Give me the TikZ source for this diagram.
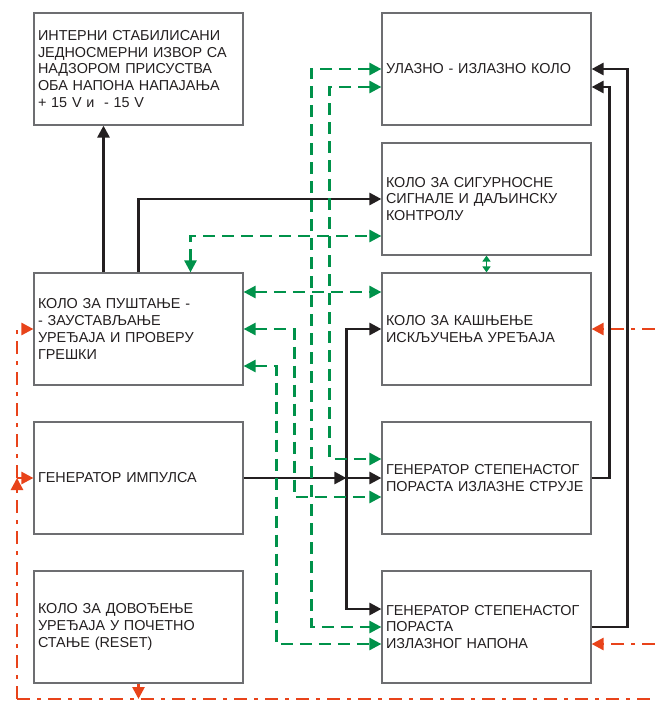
\documentclass[tikz,border=0pt]{standalone}
\usepackage{fontspec}
\setsansfont{Liberation Sans}
\usetikzlibrary{arrows.meta}

\definecolor{blkline}{HTML}{231F20}
\definecolor{grnline}{HTML}{00924A}
\definecolor{redline}{HTML}{E8431A}
\definecolor{boxgray}{HTML}{6D6E71}

\tikzset{
  blok/.style={draw=boxgray, line width=1.2pt, minimum width=209pt, minimum height=112pt,
    text width=201pt, inner sep=4pt, align=left, text=blkline,
    font=\sffamily\fontsize{14.4}{16.7}\selectfont},
  bline/.style={draw=blkline, line width=2.8pt, ->},
  gline/.style={draw=grnline, line width=2.6pt, dash pattern=on 12pt off 7pt},
  rline/.style={draw=redline, line width=2.6pt, dash pattern=on 13pt off 7pt on 4pt off 7pt},
}

\begin{document}
\begin{tikzpicture}[x=1pt, y=-1pt, font=\sffamily, >={Triangle[length=12pt,width=12pt]}]
        \useasboundingbox (0,0) rectangle (655,702);
        % left column
        \node[blok] (pwr) at (138.5,69) {ИНТЕРНИ СТАБИЛИСАНИ\\ЈЕДНОСМЕРНИ ИЗВОР СА\\НАДЗОРОМ ПРИСУСТВА\\ОБА НАПОНА НАПАЈАЊА\\+ 15 V и\ \ - 15 V};
        \node[blok] (start) at (138.5,329) {КОЛО ЗА ПУШТАЊЕ -\\- ЗАУСТАВЉАЊЕ\\УРЕЂАЈА И ПРОВЕРУ\\ГРЕШКИ};
        \node[blok] (pulse) at (138.5,478) {ГЕНЕРАТОР ИМПУЛСА};
        \node[blok] (reset) at (138.5,627) {КОЛО ЗА ДОВОЂЕЊЕ\\УРЕЂАЈА У ПОЧЕТНО\\СТАЊЕ (RESET)};
        % right column
        \node[blok] (io) at (486.5,69) {УЛАЗНО - ИЗЛАЗНО КОЛО};
        \node[blok] (safe) at (486.5,199) {КОЛО ЗА СИГУРНОСНЕ\\СИГНАЛЕ И ДАЉИНСКУ\\КОНТРОЛУ};
        \node[blok] (delay) at (486.5,329) {КОЛО ЗА КАШЊЕЊЕ\\ИСКЉУЧЕЊА УРЕЂАЈА};
        \node[blok] (curr) at (486.5,478) {ГЕНЕРАТОР СТЕПЕНАСТОГ\\ПОРАСТА ИЗЛАЗНЕ СТРУЈЕ};
        \node[blok] (volt) at (486.5,627) {ГЕНЕРАТОР СТЕПЕНАСТОГ\\ПОРАСТА\\ИЗЛАЗНОГ НАПОНА};

        % black connections
        \draw[bline] ([xshift=-35pt]start.north) -- ([xshift=-35pt]pwr.south);
        \draw[bline] (start.north) |- (safe.west);
        \coordinate (bus) at ([xshift=-35pt]curr.west);
        \draw[bline] (pulse.east) -- (bus);
        \draw[bline] (bus) -- (curr.west);
        \draw[bline] (bus) |- (delay.west);
        \draw[bline] (bus) |- ([yshift=18pt]volt.west);
        \draw[bline] (curr.east) -| ([xshift=18pt,yshift=-18pt]io.east) -- ([yshift=-18pt]io.east);
        \draw[bline] (volt.east) -| ([xshift=36pt]io.east) -- (io.east);

        % green connections
        \draw[gline,<->] ([xshift=52pt]start.north) |- ([yshift=-37pt]safe.west);
        \draw[gline,<->] ([yshift=37pt]start.east) -- ([yshift=37pt]delay.west);
        \draw[gline,<->] (start.east) -| ([xshift=-87pt,yshift=-19pt]curr.west) -- ([yshift=-19pt]curr.west);
        \draw[gline,<->] ([yshift=-37pt]start.east) -| ([xshift=-105pt,yshift=-17pt]volt.west) -- ([yshift=-17pt]volt.west);
        \draw[gline,<->] (io.west) -| ([xshift=-70pt]volt.west) -- (volt.west);
        \draw[gline,<->] ([yshift=-18pt]io.west) -| ([xshift=-52pt,yshift=19pt]curr.west) -- ([yshift=19pt]curr.west);
        \draw[gline,solid,line width=1.6pt,{Triangle[length=6pt,width=8pt]}-{Triangle[length=6pt,width=8pt]}] (safe.south) -- (delay.north);

        % red reset lines
        \coordinate (rbl) at (17,699);
        \coordinate (rbr) at (655,699);
        \coordinate (vin) at ([yshift=-17pt]volt.east);
        \draw[rline] (rbl) -- (rbr);
        \draw[rline,->] (reset.south) -- (reset.south |- rbl);
        \draw[rline,->] (rbl) -- (pulse.west -| rbl);
        \draw[rline,->] (pulse.west -| rbl) |- (start.west);
        \draw[rline,->] (pulse.west -| rbl) -- (pulse.west);
        \draw[rline,->] (delay.east -| rbr) -- (delay.east);
        \draw[rline,->] (vin -| rbr) -- (vin);
    \end{tikzpicture}
\end{document}
